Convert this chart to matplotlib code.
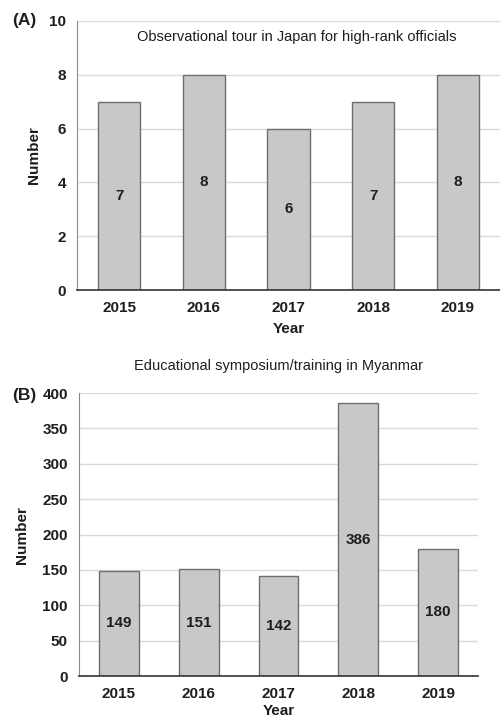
import matplotlib
matplotlib.use("Agg")
import matplotlib.pyplot as plt

plt.rcParams['font.family'] = ['Liberation Sans', 'DejaVu Sans']

years = ["2015", "2016", "2017", "2018", "2019"]
tour_values = [7, 8, 6, 7, 8]
symposium_values = [149, 151, 142, 386, 180]

fig = plt.figure(figsize=(5, 7.2), dpi=100)

bar_color = '#c8c8c8'
edge_color = '#6e6e6e'
grid_color = '#d9d9d9'
text_color = '#1e1e1e'


def style(ax, ymax, step, xpad):
    ax.set_ylim(0, ymax)
    ax.set_xlim(-0.5, len(years) - 0.5)
    ax.set_yticks(range(0, ymax + 1, step))
    ax.yaxis.grid(True, color=grid_color, linewidth=1)
    ax.set_axisbelow(True)
    for s in ['top', 'right']:
        ax.spines[s].set_visible(False)
    ax.spines['left'].set_color('#8a8a8a')
    ax.spines['bottom'].set_color('#333333')
    ax.spines['bottom'].set_linewidth(1.2)
    ax.tick_params(axis='both', length=0, labelsize=11, colors=text_color, pad=8)
    for lab in ax.get_xticklabels() + ax.get_yticklabels():
        lab.set_fontweight('bold')
    ax.set_xlabel('Year', fontsize=11, fontweight='bold', color=text_color, labelpad=xpad)
    ax.set_ylabel('Number', fontsize=11, fontweight='bold', color=text_color)


axA = fig.add_axes([0.154, 0.597, 0.846, 0.374])
x = range(len(years))
axA.bar(x, tour_values, width=0.5, color=bar_color, edgecolor=edge_color, linewidth=1)
axA.set_xticks(list(x))
axA.set_xticklabels(years)
style(axA, 10, 2, 5)
for xi, v in zip(x, tour_values):
    axA.text(xi, v / 2, str(v), ha='center', va='center', fontsize=11, fontweight='bold', color=text_color)
axA.text(0.52, 0.94, 'Observational tour in Japan for high-rank officials', transform=axA.transAxes,
         ha='center', va='center', fontsize=10.5, color=text_color)
axA.yaxis.set_label_coords(-0.085, 0.5)

axB = fig.add_axes([0.158, 0.061, 0.798, 0.393])
axB.bar(x, symposium_values, width=0.5, color=bar_color, edgecolor=edge_color, linewidth=1)
axB.set_xticks(list(x))
axB.set_xticklabels(years)
style(axB, 400, 50, 2)
for xi, v in zip(x, symposium_values):
    axB.text(xi, v / 2, str(v), ha='center', va='center', fontsize=11, fontweight='bold', color=text_color)
axB.set_title('Educational symposium/training in Myanmar', fontsize=10.5, color=text_color, pad=17)
axB.yaxis.set_label_coords(-0.125, 0.5)

fig.text(0.024, 0.972, '(A)', fontsize=12.5, fontweight='bold', color=text_color, va='center')
fig.text(0.024, 0.451, '(B)', fontsize=12.5, fontweight='bold', color=text_color, va='center')

fig.savefig('out.png', dpi=100)
